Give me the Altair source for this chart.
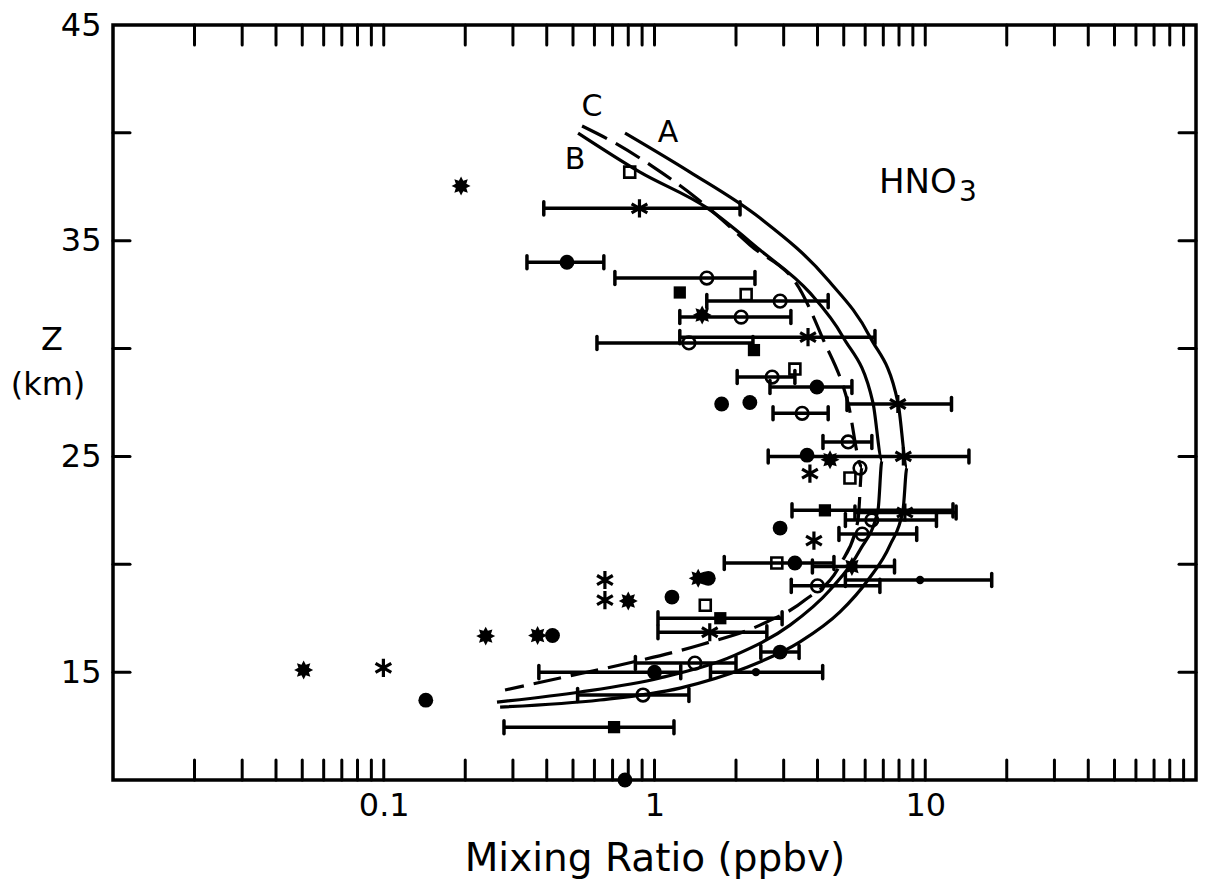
import math
import altair as alt
import pandas as pd

FONT = "DejaVu Sans"

# ---------------- model curves (mixing ratio ppbv, altitude km) ----------------
curve_A_x = [0.778, 1.352, 2.453, 4.373, 6.25, 7.933, 8.562, 8.277, 7.41, 6.145, 4.843, 3.446, 2.159, 1.242, 0.629, 0.269]
curve_A_z = [39.99, 38.18, 36.05, 33.18, 30.54, 27.48, 24.51, 22.52, 20.89, 19.27, 17.79, 16.4, 15.19, 14.26, 13.71, 13.38]
curve_B_x = [0.522, 0.884, 1.563, 2.453, 3.752, 4.968, 6.412, 6.924, 6.692, 5.741, 4.448, 3.166, 1.983, 1.048, 0.531, 0.262]
curve_B_z = [39.99, 38.18, 36.52, 34.57, 32.58, 30.54, 27.48, 24.83, 22.52, 20.66, 18.81, 17.18, 15.79, 14.73, 14.08, 13.61]
curve_C_x = [0.540, 0.703, 0.979, 1.411, 2.253, 3.505, 4.157, 5.185, 5.84, 5.645, 4.843, 3.596, 2.453, 1.472, 0.746, 0.448, 0.2805]
curve_C_z = [40.32, 39.58, 38.46, 37.03, 34.8, 32.58, 30.54, 27.48, 24.51, 22.05, 19.97, 18.34, 17.18, 16.26, 15.33, 14.73, 14.17]

# ---------------- measurements ----------------
fc_x = [0.475, 3.98, 1.77, 2.25, 3.66, 2.91, 3.30, 1.58, 1.16, 0.42, 2.91, 1.0, 0.143, 0.778]
fc_z = [34.0, 28.22, 27.43, 27.5, 25.06, 21.68, 20.06, 19.35, 18.48, 16.7, 15.93, 15.0, 13.7, 10.0]
dot_x = [9.57, 2.37]
dot_z = [19.27, 15.0]
oc_x = [1.56, 2.91, 2.09, 1.34, 2.72, 3.51, 5.19, 5.74, 6.35, 5.85, 4.0, 1.41, 0.907]
oc_z = [33.27, 32.2, 31.46, 30.26, 28.68, 27.0, 25.67, 24.46, 22.05, 21.4, 19.0, 15.42, 13.94]
fs_x = [1.24, 2.33, 4.26, 1.75, 0.709]
fs_z = [32.6, 29.93, 22.5, 17.5, 12.45]
os_x = [0.81, 2.18, 3.30, 5.27, 2.83, 1.54]
os_z = [38.18, 32.5, 29.05, 24.0, 20.06, 18.1]
ast_x = [0.88, 3.69, 7.92, 8.3, 3.75, 8.41, 3.88, 0.656, 0.656, 0.0997, 1.6]
ast_z = [36.5, 30.53, 27.43, 25.0, 24.2, 22.4, 21.1, 19.27, 18.34, 15.2, 16.85]
sb_x = [0.193, 1.50, 4.45, 0.238, 0.37, 0.80, 0.0506, 1.45, 5.36]
sb_z = [37.54, 31.56, 24.85, 16.67, 16.7, 18.3, 15.1, 19.35, 19.9]

# error bars
bar_z = [36.5, 34.0, 33.27, 32.2, 31.46, 30.53, 30.26, 28.68, 28.22, 27.43, 27.0, 25.67, 25.0,
         22.5, 22.4, 22.05, 21.4, 20.06, 19.9, 19.27, 19.0, 17.5, 16.85, 15.93, 15.42, 15.0, 15.0, 13.94, 12.45]
bar_lo = [0.39, 0.338, 0.714, 1.56, 1.24, 1.24, 0.613, 2.02, 2.67, 5.14, 2.74, 4.19, 2.63,
          3.22, 5.5, 5.07, 4.8, 1.81, 3.83, 5.07, 3.2, 1.03, 1.03, 2.47, 0.85, 0.374, 1.61, 0.52, 0.278]
bar_hi = [2.07, 0.650, 2.35, 4.38, 3.19, 6.52, 2.31, 3.3, 5.36, 12.5, 4.38, 6.35, 14.5,
          12.66, 13.0, 11.0, 9.3, 4.6, 7.7, 17.6, 6.8, 2.96, 2.6, 3.42, 2.0, 1.25, 4.18, 1.34, 1.18]

# axis ticks
x_ticks = [0.02, 0.03, 0.04, 0.05, 0.06, 0.07, 0.08, 0.09,
           0.1, 0.2, 0.3, 0.4, 0.5, 0.6, 0.7, 0.8, 0.9,
           1, 2, 3, 4, 5, 6, 7, 8, 9,
           10, 20, 30, 40, 50, 60, 70, 80, 90]
x_labels = [0.1, 1, 10]
y_ticks = [15, 20, 25, 30, 35, 40]
y_labels = [15, 25, 35, 45]

curve_labels = ["A", "B", "C"]
curve_label_x = [1.122, 0.509, 0.588]
curve_label_z = [40.0, 38.74, 41.2]

W, H = 1083, 755

xs = alt.Scale(type="log", domain=[0.01, 100], nice=False)
ys = alt.Scale(domain=[10, 45], nice=False, zero=False)
xaxis = alt.Axis(values=x_labels,
                 labelExpr="datum.value < 0.5 ? '0.1' : (datum.value < 5 ? '1' : '10')",
                 ticks=False, tickSize=0, domain=False, grid=False,
                 labelFont=FONT, labelFontSize=32, labelColor="black", labelPadding=10,
                 labelFlush=False,
                 title="Mixing Ratio (ppbv)", titleFont=FONT, titleFontSize=39,
                 titleFontWeight="normal", titleColor="black", titleY=90,
                 titleBaseline="alphabetic")
yaxis = alt.Axis(values=y_labels, ticks=False, tickSize=0, domain=False, grid=False,
                 labelFont=FONT, labelFontSize=32, labelColor="black", labelPadding=12,
                 labelFlush=False, title=None)


def X(f):
    return alt.X(f, type="quantitative", scale=xs, axis=xaxis)


def Y(f):
    return alt.Y(f, type="quantitative", scale=ys, axis=yaxis)


# star (8-point burst) and asterisk symbol paths
pts = []
for k in range(16):
    r = 1.0 if k % 2 == 0 else 0.6
    a = math.pi * k / 8
    pts.append(f"{r*math.sin(a):.3f},{-r*math.cos(a):.3f}")
STAR = "M" + "L".join(pts) + "Z"
ASTER = "M0,-1L0,1M-0.866,-0.5L0.866,0.5M-0.866,0.5L0.866,-0.5"
CAP = "M0,-1L0,1"

# ---------------- data frames ----------------
curves = pd.concat([
    pd.DataFrame({"x": curve_A_x, "z": curve_A_z, "c": "A", "o": range(len(curve_A_x))}),
    pd.DataFrame({"x": curve_B_x, "z": curve_B_z, "c": "B", "o": range(len(curve_B_x))}),
])
curveC = pd.DataFrame({"x": curve_C_x, "z": curve_C_z, "o": range(len(curve_C_x))})
bars = pd.DataFrame({"z": bar_z, "lo": bar_lo, "hi": bar_hi})
caps = pd.DataFrame({"z": bar_z + bar_z, "x": bar_lo + bar_hi})
xt = pd.DataFrame({"t": x_ticks})
yt = pd.DataFrame({"t": y_ticks})

layers = []

# inward ticks
layers.append(alt.Chart(xt).mark_rule(color="black", strokeWidth=3, strokeCap="round").encode(
    x=X("t"), y=alt.value(H), y2=alt.value(H - 20)))
layers.append(alt.Chart(xt).mark_rule(color="black", strokeWidth=3, strokeCap="round").encode(
    x=X("t"), y=alt.value(0), y2=alt.value(20)))
layers.append(alt.Chart(yt).mark_rule(color="black", strokeWidth=3, strokeCap="round").encode(
    y=Y("t"), x=alt.value(0), x2=alt.value(17)))
layers.append(alt.Chart(yt).mark_rule(color="black", strokeWidth=3, strokeCap="round").encode(
    y=Y("t"), x=alt.value(W), x2=alt.value(W - 17)))

# curves
layers.append(alt.Chart(curves).mark_line(color="black", strokeWidth=3.2, interpolate="monotone").encode(
    x=X("x"), y=Y("z"), detail="c:N", order="o:Q"))
layers.append(alt.Chart(curveC).mark_line(color="black", strokeWidth=3.2, strokeDash=[28, 10],
                                          interpolate="monotone").encode(
    x=X("x"), y=Y("z"), order="o:Q"))

# error bars
layers.append(alt.Chart(bars).mark_rule(color="black", strokeWidth=3.5).encode(
    x=X("lo"), x2="hi", y=Y("z")))
layers.append(alt.Chart(caps).mark_point(shape=CAP, filled=False, color="black", size=170,
                                         strokeWidth=3.5, opacity=1, strokeCap="round").encode(
    x=X("x"), y=Y("z")))

# markers
def pts_layer(xv, zv, **kw):
    return alt.Chart(pd.DataFrame({"x": xv, "z": zv})).mark_point(opacity=1, color="black", **kw).encode(
        x=X("x"), y=Y("z"))

layers.append(pts_layer(fc_x, fc_z, shape="circle", filled=True, size=220))
layers.append(pts_layer(dot_x, dot_z, shape="circle", filled=True, size=70))
layers.append(pts_layer(oc_x, oc_z, shape="circle", filled=False, size=160, strokeWidth=2.6))
layers.append(pts_layer(fs_x, fs_z, shape="square", filled=True, size=150))
layers.append(pts_layer(os_x, os_z, shape="square", filled=False, size=120, strokeWidth=2.6))
layers.append(pts_layer(ast_x, ast_z, shape=ASTER, filled=False, size=330, strokeWidth=3.2))
layers.append(pts_layer(sb_x, sb_z, shape=STAR, filled=True, size=360))

# curve labels
layers.append(alt.Chart(pd.DataFrame({"x": curve_label_x, "z": curve_label_z, "t": curve_labels})).mark_text(
    font=FONT, fontSize=30, color="black", align="center", baseline="middle").encode(
    x=X("x"), y=Y("z"), text="t:N"))

# species label
layers.append(alt.Chart(pd.DataFrame({"x": [6.75], "z": [37.67]})).mark_text(
    font=FONT, fontSize=34, color="black", align="left", baseline="middle", text="HNO").encode(
    x=X("x"), y=Y("z")))
layers.append(alt.Chart(pd.DataFrame({"x": [6.75], "z": [37.67]})).mark_text(
    font=FONT, fontSize=28, color="black", align="left", baseline="middle", text="3", dx=80, dy=10).encode(
    x=X("x"), y=Y("z")))

# y-axis title
layers.append(alt.Chart(pd.DataFrame({"a": [0]})).mark_text(
    font=FONT, fontSize=32, color="black", align="center", baseline="middle", text="Z").encode(
    x=alt.value(-61), y=alt.value(315)))
layers.append(alt.Chart(pd.DataFrame({"a": [0]})).mark_text(
    font=FONT, fontSize=32, color="black", align="center", baseline="middle", text="(km)").encode(
    x=alt.value(-65), y=alt.value(360)))

chart = alt.layer(*layers).properties(
    width=W, height=H,
    autosize=alt.AutoSizeParams(type="none"),
    padding={"left": 113, "top": 25, "right": 13, "bottom": 106},
    background="white",
).configure_view(stroke="black", strokeWidth=3.5)

chart.save("out.html", embed_options={"renderer": "svg", "actions": False})
